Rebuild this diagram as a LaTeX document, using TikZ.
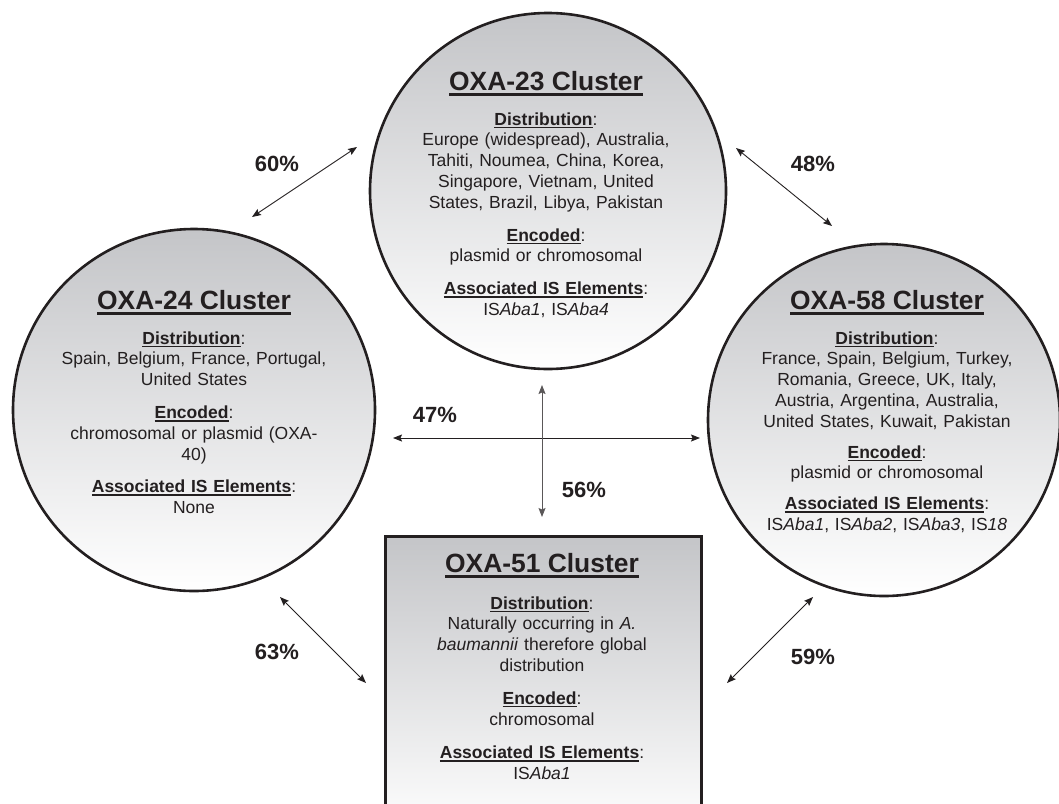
\documentclass[tikz,border=0pt]{standalone}
\usepackage{fontspec}
\setmainfont{Liberation Sans}
\usetikzlibrary{arrows.meta}
\definecolor{ink}{RGB}{35,31,32}
\definecolor{shadetop}{RGB}{196,197,200}
\newcommand\myul[3]{\setbox0=\hbox{#3}\leavevmode\rlap{\rule[-#1]{\wd0}{#2}}\box0}
\newcommand\hd[1]{\myul{3.2pt}{1.7pt}{\textbf{#1}}:}
\newcommand\ttl[1]{\myul{5.8pt}{2.6pt}{\textbf{#1}}}
\begin{document}
\begin{tikzpicture}[x=1pt,y=-1pt,
  bubble/.style={circle, draw=ink, line width=2.6pt, top color=shadetop, bottom color=white, inner sep=0pt},
  titlenode/.style={anchor=base, text=ink, inner sep=0pt, font=\fontsize{26.4}{30}\selectfont},
  bodynode/.style={anchor=base, text=ink, inner sep=0pt, align=center, text width=330pt, font=\fontsize{17.5}{20.8}\selectfont},
  pct/.style={text=ink, inner sep=0pt, font=\fontsize{22}{24}\selectfont\bfseries},
  link/.style={{Stealth[length=9pt,width=7pt,inset=1.5pt]}-{Stealth[length=9pt,width=7pt,inset=1.5pt]}, line width=0.9pt, draw=ink}]
\useasboundingbox (0,0) rectangle (1059,803);
\clip (0,0) rectangle (1059,803);

% shapes
\node[bubble, minimum size=356pt] (c23) at (548,191) {};
\node[bubble, minimum size=362pt] (c24) at (194,410) {};
\node[bubble, minimum size=352pt] (c58) at (884,420) {};
\node[draw=ink, line width=3pt, top color=shadetop, bottom color=white, inner sep=0pt, minimum width=316pt, minimum height=300pt, anchor=north west] (c51) at (384,535) {};

% OXA-23
\node[titlenode] (t23) at (546,90) {\ttl{OXA-23 Cluster}};
\node[bodynode] (b23) at (546,125) {\hd{Distribution}\\
Europe (widespread), Australia,\\
Tahiti, Noumea, China, Korea,\\
Singapore, Vietnam, United\\
States, Brazil, Libya, Pakistan\\[12pt]
\hd{Encoded}\\
plasmid or chromosomal\\[12pt]
\hd{Associated IS Elements}\\
IS\textit{Aba1}, IS\textit{Aba4}};

% OXA-24
\node[titlenode] (t24) at (194,309) {\ttl{OXA-24 Cluster}};
\node[bodynode] (b24) at (194,344) {\hd{Distribution}\\
Spain, Belgium, France, Portugal,\\
United States\\[12pt]
\hd{Encoded}\\
chromosomal or plasmid (OXA-\\
40)\\[12pt]
\hd{Associated IS Elements}\\
None};

% OXA-58
\node[titlenode] (t58) at (887,309) {\ttl{OXA-58 Cluster}};
\node[bodynode] (b58) at (887,344) {\hd{Distribution}\\
France, Spain, Belgium, Turkey,\\
Romania, Greece, UK, Italy,\\
Austria, Argentina, Australia,\\
United States, Kuwait, Pakistan\\[10pt]
\hd{Encoded}\\
plasmid or chromosomal\\[10pt]
\hd{Associated IS Elements}\\
IS\textit{Aba1}, IS\textit{Aba2}, IS\textit{Aba3}, IS\textit{18}};

% OXA-51
\node[titlenode] (t51) at (542,572) {\ttl{OXA-51 Cluster}};
\node[bodynode] (b51) at (542,609) {\hd{Distribution}\\
Naturally occurring in \textit{A.}\\
\textit{baumannii} therefore global\\
distribution\\[12pt]
\hd{Encoded}\\
chromosomal\\[13pt]
\hd{Associated IS Elements}\\
IS\textit{Aba1}};

% arrow ends
\coordinate (a60s) at (252,217); \coordinate (a60e) at (357,147);
\coordinate (a48s) at (736,148); \coordinate (a48e) at (832,226);
\coordinate (a47s) at (393,438); \coordinate (a47e) at (700,438);
\coordinate (a56s) at (542,385); \coordinate (a56e) at (542,517);
\coordinate (a63s) at (280,597); \coordinate (a63e) at (366,683);
\coordinate (a59s) at (813,597); \coordinate (a59e) at (727,683);

\draw[link] (a60s) -- (a60e);
\draw[link] (a48s) -- (a48e);
\draw[link] (a47s) -- (a47e);
\draw[link, draw=ink!75] (a56s) -- (a56e);
\draw[link] (a63s) -- (a63e);
\draw[link] (a59s) -- (a59e);

\node[pct] (p60) at (277,164) {60\%};
\node[pct] (p48) at (813,164) {48\%};
\node[pct] (p47) at (435,415) {47\%};
\node[pct] (p56) at (584,490) {56\%};
\node[pct] (p63) at (277,652) {63\%};
\node[pct] (p59) at (813,657) {59\%};
\end{tikzpicture}
\end{document}
